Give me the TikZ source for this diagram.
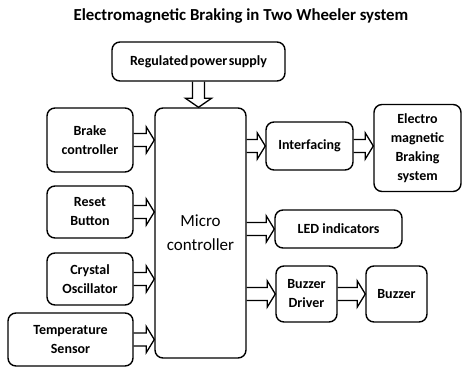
\documentclass[tikz,border=0pt]{standalone}
\usepackage{fontspec}
\setmainfont{Carlito}
\usetikzlibrary{calc}
\tikzset{
  box/.style={draw, rounded corners=8pt, line width=1.4pt, align=center,
    font=\bfseries\fontsize{14}{19}\selectfont, inner sep=0pt},
  blk/.style={draw, line width=1.3pt, line join=miter}
}
\newcommand{\harr}[2]{\draw[blk] let \p1=(#1), \p2=(#2) in
  (\x1,\y1+6.5pt) -- (\x2-8pt,\y1+6.5pt) -- (\x2-8pt,\y1+13pt) -- (\x2,\y1)
  -- (\x2-8pt,\y1-13pt) -- (\x2-8pt,\y1-6.5pt) -- (\x1,\y1-6.5pt);}
\newcommand{\varr}[2]{\draw[blk] let \p1=(#1), \p2=(#2) in
  (\x1-6pt,\y1) -- (\x1-6pt,\y2+9pt) -- (\x1-13pt,\y2+9pt) -- (\x1,\y2)
  -- (\x1+13pt,\y2+9pt) -- (\x1+6pt,\y2+9pt) -- (\x1+6pt,\y1);}
\begin{document}
\begin{tikzpicture}[x=1pt,y=-1pt]
\path[use as bounding box] (0,0) rectangle (462,367);
\node (title) at (241,16) {\bfseries\fontsize{16.8}{19}\selectfont Electromagnetic Braking in Two Wheeler system};
\node[box, minimum width=173pt, minimum height=39pt] (rps) at (198.5,61.5) {{\spaceskip=1.5pt Regulated power supply}};
\node[box, minimum width=91pt, minimum height=250pt, font=\fontsize{17}{24}\selectfont] (micro) at (200.5,233) {Micro\\controller};
\node[box, minimum width=86pt, minimum height=64pt] (brake) at (90,140) {Brake\\controller};
\node[box, minimum width=86pt, minimum height=52pt] (reset) at (90,212) {Reset\\Button};
\node[box, minimum width=86pt, minimum height=52pt] (crystal) at (90,279) {Crystal\\Oscillator};
\node[box, minimum width=125pt, minimum height=53pt] (temp) at (70.5,339.5) {Temperature\\Sensor};
\node[box, minimum width=87pt, minimum height=48pt] (interf) at (309.5,146) {Interfacing};
\node[box, minimum width=87pt, minimum height=87pt] (emb) at (417.5,148) {Electro\\magnetic\\Braking\\system};
\node[box, minimum width=127pt, minimum height=38pt] (led) at (338.5,229) {LED indicators};
\node[box, minimum width=61pt, minimum height=56pt] (bdrv) at (306.5,294) {Buzzer\\Driver};
\node[box, minimum width=61pt, minimum height=56pt] (buzz) at (396.5,294) {Buzzer};
\varr{rps.south}{micro.north}
\harr{brake.east}{micro.west |- brake.east}
\harr{reset.east}{micro.west |- reset.east}
\harr{crystal.east}{micro.west |- crystal.east}
\harr{temp.east}{micro.west |- temp.east}
\harr{micro.east |- interf.west}{interf.west}
\harr{interf.east}{emb.west |- interf.east}
\harr{micro.east |- led.west}{led.west}
\harr{micro.east |- bdrv.west}{bdrv.west}
\harr{bdrv.east}{buzz.west}
\end{tikzpicture}
\end{document}
